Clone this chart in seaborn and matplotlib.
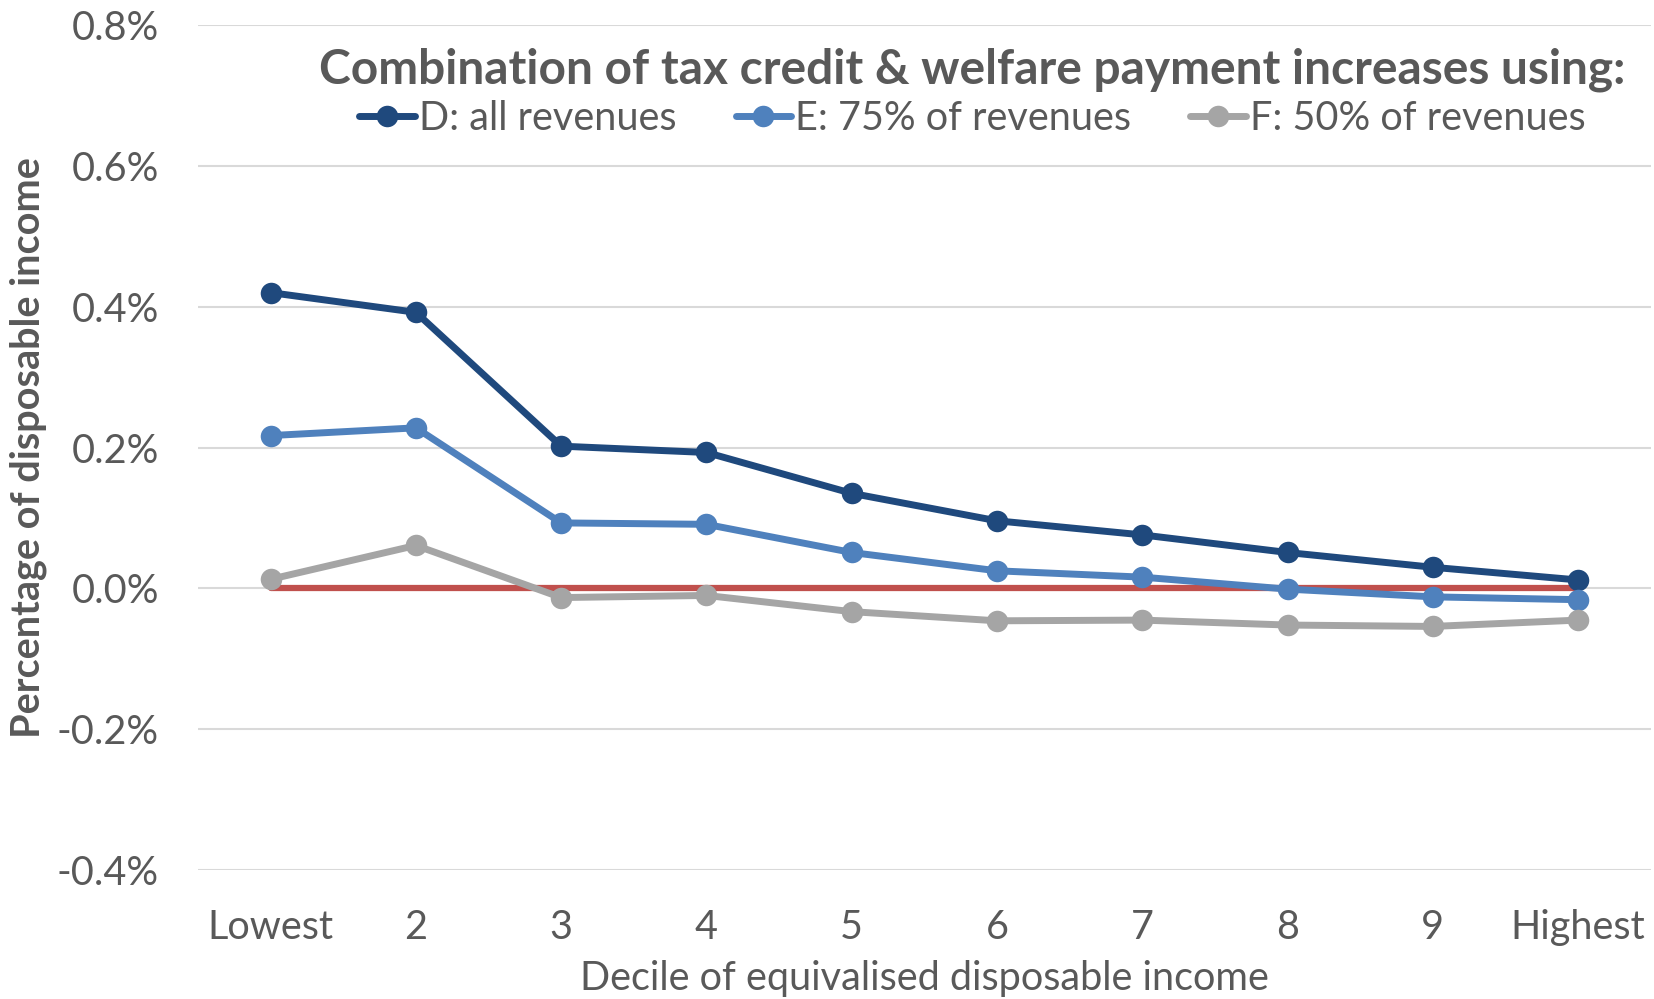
import numpy as np
import pandas as pd
import seaborn as sns
import matplotlib.pyplot as plt

deciles = ["Lowest", "2", "3", "4", "5", "6", "7", "8", "9", "Highest"]
all_revenues = [0.420, 0.392, 0.202, 0.193, 0.135, 0.096, 0.076, 0.051, 0.030, 0.012]
rev_75 = [0.217, 0.228, 0.093, 0.091, 0.051, 0.025, 0.016, -0.001, -0.012, -0.016]
rev_50 = [0.013, 0.061, -0.013, -0.010, -0.033, -0.046, -0.045, -0.052, -0.054, -0.045]
baseline = [0.0] * 10

series_names = ["D: all revenues", "E: 75% of revenues", "F: 50% of revenues"]
series_colors = ["#1F497D", "#4F81BD", "#A5A5A5"]

sns.set_theme(style="white")
plt.rcParams['font.family'] = ['Lato', 'DejaVu Sans']
text_col = "#595959"

fig = plt.figure(figsize=(16.54, 9.99), dpi=100)
ax = fig.add_axes([0.1197, 0.129, 0.8783, 0.846])

x = np.arange(len(deciles))
sns.lineplot(x=x, y=baseline, color="#C0504D", linewidth=4.5, ax=ax, legend=False)
for name, vals, col in zip(series_names, [all_revenues, rev_75, rev_50], series_colors):
    sns.lineplot(x=x, y=vals, color=col, linewidth=5, marker="o", markersize=15.5,
                 markeredgewidth=0, label=name, ax=ax)

ax.set_xlim(-0.5, len(deciles) - 0.5)
ax.set_ylim(-0.4, 0.8)
ax.set_yticks([-0.4, -0.2, 0.0, 0.2, 0.4, 0.6, 0.8])
ax.set_yticklabels([f"{v:.1f}%" for v in [-0.4, -0.2, 0.0, 0.2, 0.4, 0.6, 0.8]])
ax.set_xticks(x)
ax.set_xticklabels(deciles)
ax.tick_params(axis="both", length=0, labelsize=28.5, labelcolor=text_col)
ax.tick_params(axis="x", pad=28)
ax.tick_params(axis="y", pad=28)
ax.yaxis.grid(True, color="#D9D9D9", linewidth=1.5)
ax.set_axisbelow(True)
for s in ax.spines.values():
    s.set_visible(False)

ax.set_xlabel("Decile of equivalised disposable income", fontsize=28.5, color=text_col, labelpad=10)
ax.set_ylabel("Percentage of disposable income", fontsize=28.5, fontweight="bold", color=text_col)
ax.yaxis.set_label_coords(-0.104, 0.5)

leg = ax.legend(loc="upper center", bbox_to_anchor=(0.533, 1.016), ncol=3, frameon=False,
                fontsize=28.5, handlelength=1.4, handletextpad=0.1, columnspacing=1.5,
                labelspacing=0.22,
                title="Combination of tax credit & welfare payment increases using:",
                title_fontproperties={"size": 34.5, "weight": "bold"})
leg.get_title().set_color(text_col)
for t in leg.get_texts():
    t.set_color(text_col)

fig.savefig("out.png", dpi=100)
